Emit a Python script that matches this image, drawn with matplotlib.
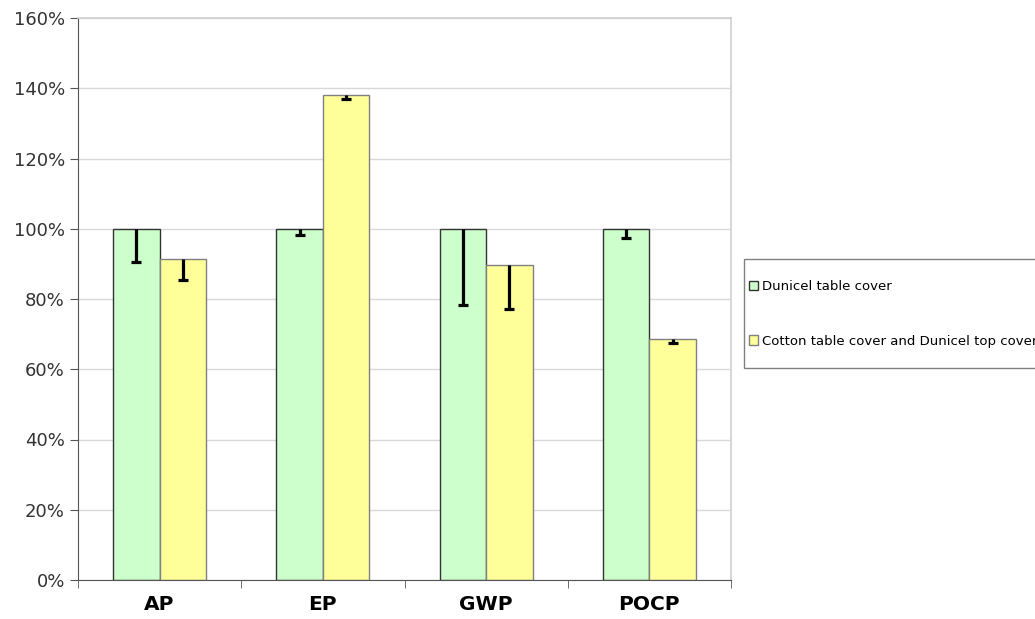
import matplotlib

matplotlib.use("Agg")
import matplotlib.pyplot as plt
import numpy as np
from matplotlib.patches import Rectangle
from matplotlib.ticker import FuncFormatter, FixedLocator

categories = ["AP", "EP", "GWP", "POCP"]
series_names = ["Dunicel table cover", "Cotton table cover and Dunicel top cover"]
dunicel = [100.0, 100.0, 100.0, 100.0]
cotton = [91.3, 138.1, 89.6, 68.7]
# lower ends of the error bars (only the downward part is drawn)
dunicel_low = [90.5, 98.2, 78.3, 97.5]
cotton_low = [85.4, 137.0, 77.1, 67.4]

GREEN, YELLOW = "#CCFFCC", "#FFFF99"

fig = plt.figure(figsize=(10.35, 6.19), dpi=100)
ax = fig.add_axes([78 / 1035, 39 / 619, (731 - 78) / 1035, (580 - 18) / 619])

x = np.arange(len(categories))
w = 0.285

for vals, low, color, edge, off, name in [
    (dunicel, dunicel_low, GREEN, "#333333", -w / 2, series_names[0]),
    (cotton, cotton_low, YELLOW, "#808080", w / 2, series_names[1]),
]:
    vals = np.array(vals)
    err = [vals - np.array(low), np.zeros_like(vals)]
    ax.bar(x + off, vals, w, color=color, edgecolor=edge, linewidth=1.0,
           label=name, zorder=2)
    eb = ax.errorbar(x + off, vals, yerr=err, fmt="none", ecolor="black",
                     elinewidth=2.3, capsize=3.3, capthick=2.3, zorder=3)
    # keep only the lower cap
    eb[1][1].set_visible(False)

ax.set_xlim(-0.5, len(categories) - 0.5)
ax.set_ylim(0, 160)
ax.set_yticks(np.arange(0, 161, 20))
ax.yaxis.set_major_formatter(FuncFormatter(lambda v, _: f"{v:.0f}%"))
ax.yaxis.grid(True, color="#d9d9d9", linewidth=1.0, zorder=0)
ax.set_axisbelow(True)

ax.set_xticks(x)
ax.set_xticklabels(categories, fontsize=14.5, fontweight="bold")
ax.tick_params(axis="x", which="major", length=0, pad=11)
ax.xaxis.set_minor_locator(FixedLocator(np.arange(-0.5, len(categories), 1.0)))
ax.tick_params(axis="x", which="minor", length=6, color="#555555", direction="out")
ax.tick_params(axis="y", labelsize=13, length=6, color="#555555", labelcolor="#333333")

for side in ("left", "bottom"):
    ax.spines[side].set_color("#555555")
for side in ("top", "right"):
    ax.spines[side].set_color("#d0d0d0")
    ax.spines[side].set_linewidth(1.2)

# legend frame drawn by hand so the padding can match the original
fig.patches.append(Rectangle((744 / 1035, 1 - 368 / 619), 0.3, 109 / 619,
                             transform=fig.transFigure, facecolor="white",
                             edgecolor="#808080", linewidth=1.0, zorder=1))
leg = fig.legend(loc="upper left", bbox_to_anchor=(749 / 1035, 1 - 280 / 619),
                 fontsize=9.5, frameon=False,
                 handlelength=0.7, handleheight=0.7, handletextpad=0.3,
                 labelspacing=3.15, borderpad=0, borderaxespad=0)
leg.set_zorder(2)

fig.savefig("out.png", dpi=100)
